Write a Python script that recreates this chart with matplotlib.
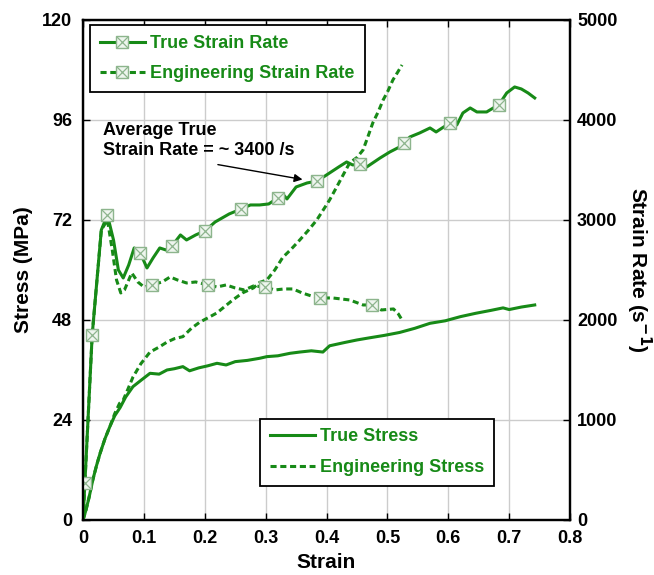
import matplotlib
matplotlib.use("Agg")
import matplotlib.pyplot as plt

plt.rcParams['font.family'] = ['Liberation Sans', 'DejaVu Sans']
plt.rcParams['font.weight'] = 'bold'

green = '#178a17'

# true strain rate (1/s) vs strain
tsr_strain = [0.0, 0.003, 0.015, 0.03, 0.04, 0.05, 0.058, 0.066, 0.075, 0.084,
              0.094, 0.105, 0.115, 0.126, 0.136, 0.146, 0.16, 0.17, 0.185, 0.2,
              0.217, 0.24, 0.26, 0.275, 0.29, 0.305, 0.32, 0.328, 0.335, 0.35,
              0.368, 0.385, 0.405, 0.42, 0.433, 0.443, 0.455, 0.466, 0.488, 0.504,
              0.52, 0.527, 0.537, 0.553, 0.57, 0.58, 0.59, 0.603, 0.614, 0.624,
              0.636, 0.647, 0.663, 0.674, 0.683, 0.696, 0.709, 0.72, 0.731, 0.742]
tsr_rate = [0, 370, 1850, 2900, 3050, 2800, 2500, 2420, 2550, 2720,
            2670, 2520, 2620, 2720, 2700, 2740, 2850, 2800, 2850, 2890,
            2980, 3060, 3110, 3150, 3150, 3160, 3220, 3260, 3210, 3330,
            3370, 3390, 3470, 3530, 3580, 3550, 3560, 3530, 3620, 3680,
            3730, 3770, 3830, 3870, 3920, 3880, 3920, 3970, 3950, 4070,
            4120, 4080, 4080, 4120, 4150, 4270, 4330, 4310, 4270, 4220]
tsr_marks = [1, 2, 4, 10, 15, 19, 22, 26, 31, 36, 41, 47, 54]

# engineering strain rate (1/s) vs strain
esr_strain = [0.0, 0.003, 0.015, 0.03, 0.04, 0.048, 0.055, 0.062, 0.068, 0.08,
              0.09, 0.1, 0.113, 0.13, 0.143, 0.155, 0.17, 0.185, 0.205, 0.22,
              0.235, 0.25, 0.265, 0.28, 0.299, 0.315, 0.33, 0.345, 0.36, 0.375,
              0.389, 0.41, 0.438, 0.46, 0.475, 0.49, 0.51, 0.518, 0.524]
esr_rate = [0, 370, 1850, 2900, 3000, 2700, 2400, 2270, 2300, 2470,
            2380, 2330, 2350, 2380, 2430, 2400, 2370, 2380, 2350, 2330,
            2350, 2320, 2300, 2340, 2330, 2300, 2310, 2310, 2270, 2240,
            2220, 2220, 2200, 2150, 2150, 2100, 2110, 2060, 2000]
esr_marks = [12, 18, 24, 30, 34]

# true stress (MPa) vs strain
ts_strain = [0.0, 0.005, 0.01, 0.016, 0.022, 0.028, 0.036, 0.044, 0.052, 0.061,
             0.07, 0.082, 0.095, 0.11, 0.125, 0.138, 0.15, 0.164, 0.175, 0.19,
             0.205, 0.22, 0.235, 0.25, 0.27, 0.29, 0.302, 0.32, 0.34, 0.356,
             0.375, 0.394, 0.405, 0.43, 0.45, 0.47, 0.495, 0.52, 0.545, 0.57,
             0.595, 0.62, 0.645, 0.67, 0.69, 0.7, 0.72, 0.742]
ts_stress = [0, 2.5, 5.5, 9.6, 13, 16, 19.5, 22.4, 25, 27,
             29.5, 32, 33.5, 35.2, 35, 36, 36.3, 36.8, 35.8, 36.5,
             37, 37.6, 37.2, 38, 38.3, 38.8, 39.2, 39.4, 40, 40.3,
             40.6, 40.3, 41.8, 42.6, 43.2, 43.7, 44.3, 45, 46, 47.2,
             47.8, 48.8, 49.6, 50.3, 50.9, 50.5, 51.1, 51.6]

# engineering stress (MPa) vs strain
es_strain = [0.0, 0.005, 0.01, 0.016, 0.022, 0.028, 0.036, 0.044, 0.052, 0.06,
             0.066, 0.074, 0.082, 0.095, 0.11, 0.125, 0.138, 0.15, 0.164, 0.178,
             0.192, 0.205, 0.22, 0.235, 0.246, 0.262, 0.28, 0.29, 0.302, 0.315,
             0.328, 0.342, 0.356, 0.37, 0.384, 0.395, 0.405, 0.417, 0.428, 0.438,
             0.45, 0.46, 0.468, 0.476, 0.485, 0.493, 0.501, 0.509, 0.517, 0.524]
es_stress = [0, 2.5, 5.5, 9.6, 13, 16, 19.5, 22.4, 25.5, 28,
             28.8, 31.5, 34.3, 37.5, 40.3, 41.5, 42.7, 43.5, 44, 46,
             47.5, 48.5, 49.7, 51.5, 52.8, 54.5, 55.7, 57, 57.6, 60,
             63, 65, 67.2, 69.5, 72, 74.5, 76.8, 80, 83, 85.7,
             87, 88.8, 92, 95.3, 98, 100.8, 103, 105.6, 107.5, 109.2]

stress_ticks = [0, 24, 48, 72, 96, 120]
rate_ticks = [0, 1000, 2000, 3000, 4000, 5000]
strain_ticks = [0, 0.1, 0.2, 0.3, 0.4, 0.5, 0.6, 0.7, 0.8]

fig = plt.figure(figsize=(6.54, 5.75), dpi=100)
ax = fig.add_axes([0.127, 0.0957, 0.7446, 0.8696])
ax2 = ax.twinx()

dash = (2, 1.2)
lw = 2.2

# stress curves on the left axis
ax.plot(ts_strain, ts_stress, color=green, lw=lw, label='True Stress')
ax.plot(es_strain, es_stress, color=green, lw=lw, dashes=dash,
        label='Engineering Stress')

# strain rate curves on the right axis, box-x markers
mk = dict(marker='s', ms=8, mfc='#eef5ee', mec='#8db58d', mew=1)
mx = dict(marker='x', ms=8, mec='#8db58d', mew=0.9)

ax2.plot(tsr_strain, tsr_rate, color=green, lw=lw)
ax2.plot(esr_strain, esr_rate, color=green, lw=lw, dashes=dash)
for xs, ys, idx in [(tsr_strain, tsr_rate, tsr_marks),
                    (esr_strain, esr_rate, esr_marks)]:
    ax2.plot(xs, ys, ls='none', markevery=idx, **mk)
    ax2.plot(xs, ys, ls='none', markevery=idx, **mx)

# legend handles for strain rate
h1, = ax2.plot([], [], color=green, lw=lw, **mk)
h1x, = ax2.plot([], [], ls='none', **mx)
h2, = ax2.plot([], [], color=green, lw=lw, dashes=dash, **mk)
h2x, = ax2.plot([], [], ls='none', **mx)

leg_kw = dict(fancybox=False, framealpha=1, edgecolor='black',
              fontsize=13, labelcolor=green, handlelength=2.5,
              handletextpad=0.3, borderpad=0.55, labelspacing=0.75,
              borderaxespad=0)

leg2 = ax2.legend([(h1, h1x), (h2, h2x)],
                  ['True Strain Rate', 'Engineering Strain Rate'],
                  loc='upper left', bbox_to_anchor=(0.014, 0.99), **leg_kw)
leg2.get_frame().set_linewidth(1.3)

leg1 = ax.legend(loc='lower left', bbox_to_anchor=(0.363, 0.068), **leg_kw)
leg1.get_frame().set_linewidth(1.3)

# annotation
ax.text(0.033, 95.4, 'Average True\nStrain Rate = ~ 3400 /s', fontsize=13,
        fontweight='bold', va='top', ha='left', linespacing=1.2)
ax.annotate('', xy=(0.365, 81.6), xytext=(0.217, 85.4),
            arrowprops=dict(arrowstyle='-|>', color='black', lw=1,
                            mutation_scale=12))

ax.set_xlim(0, 0.8)
ax.set_ylim(0, 120)
ax2.set_ylim(0, 5000)
ax.set_xticks(strain_ticks)
ax.set_xticklabels(['0', '0.1', '0.2', '0.3', '0.4', '0.5', '0.6', '0.7', '0.8'])
ax.set_yticks(stress_ticks)
ax2.set_yticks(rate_ticks)

ax.grid(True, color='#cccccc', lw=1)
ax.set_axisbelow(True)

ax.tick_params(direction='in', length=5, width=1, labelsize=13, top=True)
ax.tick_params(axis='x', pad=7.5)
ax.tick_params(axis='y', pad=8)
ax2.tick_params(direction='in', length=5, width=1, labelsize=13, pad=5)
for a in (ax, ax2):
    for s in a.spines.values():
        s.set_linewidth(1.6)

ax.set_xlabel('Strain', fontsize=15, fontweight='bold', labelpad=4)
ax.set_ylabel('Stress (MPa)', fontsize=15, fontweight='bold', labelpad=6)
ax2.set_ylabel('Strain Rate (s$^{\\mathbf{-1}}$)', fontsize=15,
               fontweight='bold', rotation=270, labelpad=26)

fig.savefig('out.png', dpi=100)
